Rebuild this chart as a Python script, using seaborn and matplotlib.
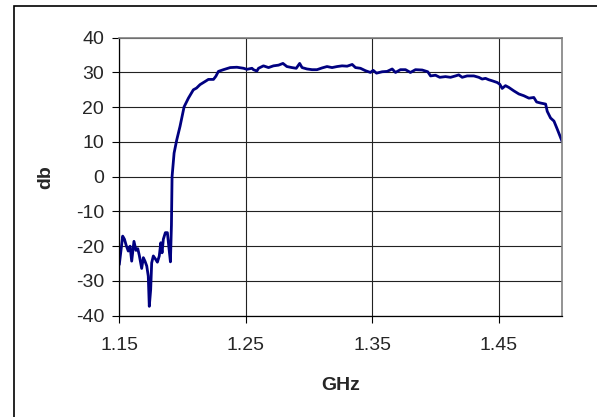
import matplotlib
matplotlib.use("Agg")
import matplotlib.pyplot as plt
import matplotlib.patches as mpatches
import seaborn as sns
import pandas as pd

# frequency (GHz) and gain (db)
ghz = [1.1500, 1.1527, 1.1541, 1.1555, 1.1571, 1.1585, 1.1598, 1.1616, 1.1632, 1.1646,
       1.1658, 1.1677, 1.1690, 1.1703, 1.1717, 1.1729, 1.1737, 1.1748, 1.1756, 1.1769,
       1.1788, 1.1801, 1.1816, 1.1828, 1.1838, 1.1848, 1.1864, 1.1880, 1.1891, 1.1904,
       1.1912, 1.1917, 1.1933, 1.1954, 1.1980, 1.2012, 1.2046, 1.2085, 1.2110, 1.2138,
       1.2178, 1.2204, 1.2244, 1.2263, 1.2283, 1.2323, 1.2376, 1.2429, 1.2482, 1.2508,
       1.2548, 1.2560, 1.2587, 1.2600, 1.2639, 1.2679, 1.2718, 1.2758, 1.2793, 1.2824,
       1.2864, 1.2898, 1.2925, 1.2944, 1.2983, 1.3023, 1.3062, 1.3102, 1.3141, 1.3181,
       1.3221, 1.3260, 1.3300, 1.3340, 1.3366, 1.3405, 1.3445, 1.3484, 1.3506, 1.3532,
       1.3577, 1.3616, 1.3656, 1.3682, 1.3721, 1.3761, 1.3800, 1.3840, 1.3893, 1.3937,
       1.3959, 1.3998, 1.4032, 1.4077, 1.4117, 1.4156, 1.4182, 1.4209, 1.4248, 1.4301,
       1.4340, 1.4367, 1.4393, 1.4419, 1.4446, 1.4486, 1.4506, 1.4525, 1.4551, 1.4577,
       1.4617, 1.4657, 1.4696, 1.4736, 1.4775, 1.4797, 1.4828, 1.4868, 1.4881, 1.4907,
       1.4934, 1.4961, 1.4987, 1.5000]
db = [-25.3, -17.1, -18.0, -19.8, -21.4, -20.0, -24.3, -18.6, -21.2, -20.7,
      -22.6, -26.4, -23.3, -24.3, -25.7, -28.6, -37.3, -32.5, -24.8, -22.8,
      -23.8, -24.6, -22.8, -19.0, -21.9, -18.0, -16.1, -16.1, -20.0, -24.5,
      -14.0, 0.0, 6.8, 10.6, 14.5, 20.1, 22.6, 25.0, 25.5, 26.5,
      27.4, 28.0, 28.0, 28.9, 30.3, 30.8, 31.4, 31.5, 31.2, 30.9,
      31.2, 30.8, 30.4, 31.2, 31.9, 31.4, 31.9, 32.1, 32.6, 31.7,
      31.4, 31.2, 32.6, 31.4, 31.0, 30.8, 30.8, 31.3, 31.7, 31.4,
      31.7, 31.9, 31.8, 32.3, 31.4, 31.2, 30.5, 30.0, 30.6, 29.8,
      30.2, 30.3, 31.0, 30.0, 30.8, 30.8, 30.0, 30.8, 30.7, 30.2,
      29.0, 29.2, 28.6, 28.8, 28.6, 29.0, 29.3, 28.6, 29.0, 29.0,
      28.6, 28.1, 28.3, 27.9, 27.6, 27.1, 26.6, 25.4, 26.2, 25.7,
      24.7, 23.8, 23.3, 22.6, 22.8, 21.5, 21.2, 20.9, 18.8, 16.9,
      16.0, 13.6, 11.2, 10.0]

x_ticks = [1.15, 1.25, 1.35, 1.45]
x_tick_labels = ["1.15", "1.25", "1.35", "1.45"]
y_ticks = [-40, -30, -20, -10, 0, 10, 20, 30, 40]

df = pd.DataFrame({"GHz": ghz, "db": db})

sns.set_style("white")
plt.rcParams["font.family"] = ["Liberation Sans", "DejaVu Sans"]
plt.rcParams["axes.unicode_minus"] = False

fig = plt.figure(figsize=(5.97, 4.17), dpi=100)
ax = fig.add_axes([0.1998, 0.2429, 0.7421, 0.6667])

sns.lineplot(data=df, x="GHz", y="db", color="#000080", linewidth=2.0, ax=ax)

ax.set_xlim(1.15, 1.50)
ax.set_ylim(-40, 40)
ax.set_xticks(x_ticks)
ax.set_xticklabels(x_tick_labels)
ax.set_yticks(y_ticks)
ax.grid(True, color="#222222", linewidth=0.8)
ax.set_axisbelow(True)

ax.tick_params(axis="both", labelsize=14, direction="out", length=5,
               width=0.8, color="black", left=True, bottom=True)
ax.tick_params(axis="x", pad=10)
ax.tick_params(axis="y", pad=6)

for side in ["left", "bottom"]:
    ax.spines[side].set_color("black")
    ax.spines[side].set_linewidth(0.9)
for side in ["top", "right"]:
    ax.spines[side].set_color("#808080")
    ax.spines[side].set_linewidth(1.2)

ax.set_xlabel("GHz", fontsize=14, fontweight="bold")
ax.set_ylabel("db", fontsize=14, fontweight="bold")
ax.xaxis.label.set_va("center")
ax.yaxis.label.set_va("center")
ax.xaxis.set_label_coords(0.5, -0.252)
ax.yaxis.set_label_coords(-0.1666, 0.5)

# outer chart border
frame = mpatches.Rectangle((14 / 597, -0.1), 1.2, 1.1 - 6 / 417,
                           transform=fig.transFigure, fill=False,
                           edgecolor="black", linewidth=1.2, clip_on=False)
fig.patches.append(frame)

fig.savefig("out.png", dpi=100)
